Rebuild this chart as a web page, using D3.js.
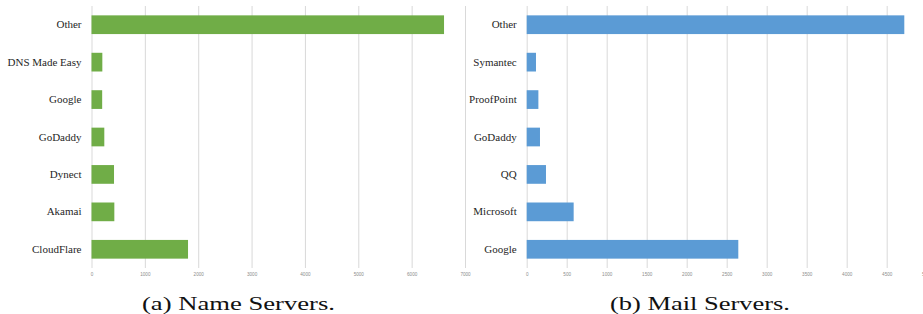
<!DOCTYPE html>
<html>
<head>
<meta charset="utf-8">
<script src="https://cdn.jsdelivr.net/npm/d3@7"></script>
<style>
  html, body { margin: 0; padding: 0; background: #fff; }
  svg { display: block; }
  .serif { font-family: 'Liberation Serif', 'Times New Roman', serif; }
</style>
</head>
<body>
<svg id="chart" width="923" height="314"></svg>
<script>
// Data
const nsCategories = ["Other", "DNS Made Easy", "Google", "GoDaddy", "Dynect", "Akamai", "CloudFlare"];
const nsValues = [6607, 203, 200, 240, 422, 428, 1809];
const nsTicks = [0, 1000, 2000, 3000, 4000, 5000, 6000, 7000];

const mailCategories = ["Other", "Symantec", "ProofPoint", "GoDaddy", "QQ", "Microsoft", "Google"];
const mailValues = [4720, 116, 146, 166, 241, 587, 2645];
const mailTicks = [0, 500, 1000, 1500, 2000, 2500, 3000, 3500, 4000, 4500, 5000];

const captions = ["(a) Name Servers.", "(b) Mail Servers."];

const svg = d3.select("#chart");

function panel(cfg) {
  const g = svg.append("g");
  const x = d3.scaleLinear().domain([0, cfg.max]).range([cfg.x0, cfg.x1]);
  const y = d3.scaleBand().domain(cfg.categories).range([6, 268]).paddingInner(0.5).paddingOuter(0.25);

  // gridlines
  const grid = g.append("g").attr("transform", "translate(0,268)")
    .call(d3.axisBottom(x).tickValues(cfg.ticks).tickSize(-262).tickFormat(""));
  grid.select(".domain").remove();
  grid.selectAll(".tick line").attr("stroke", "#d9d9d9").attr("stroke-width", 1);

  // tick labels
  const ax = g.append("g").attr("transform", "translate(0,268)")
    .call(d3.axisBottom(x).tickValues(cfg.ticks).tickSize(0).tickPadding(5).tickFormat(d3.format("d")));
  ax.select(".domain").remove();
  ax.attr("font-family", null);
  ax.selectAll("text").style("font-size", "4.6px").attr("fill", "#8c8c8c")
    .style("font-family", "'Liberation Sans', Arial, sans-serif");

  // bars
  g.selectAll("rect.bar").data(cfg.categories.map((c, i) => ({c, v: cfg.values[i]})))
    .enter().append("rect").attr("class", "bar")
    .attr("x", x(0)).attr("y", d => y(d.c))
    .attr("width", d => x(d.v) - x(0)).attr("height", y.bandwidth())
    .attr("fill", cfg.color);

  // category labels
  const yl = g.append("g").attr("transform", `translate(${x(0)},0)`)
    .call(d3.axisLeft(y).tickSize(0).tickPadding(10));
  yl.select(".domain").remove();
  yl.attr("font-family", null).attr("font-size", null);
  yl.selectAll("text").attr("class", "serif").style("font-size", "11px").attr("fill", "#262626");

  // caption
  g.append("text").attr("class", "serif").attr("x", cfg.capX).attr("y", 310).attr("text-anchor", "middle")
    .style("font-size", "19px").attr("fill", "#111")
    .attr("textLength", cfg.capW).attr("lengthAdjust", "spacingAndGlyphs")
    .text(cfg.caption);
}

panel({categories: nsCategories, values: nsValues, ticks: nsTicks, max: 7000,
  x0: 91.5, x1: 465, color: "#70ad47", caption: captions[0], capX: 238.5, capW: 193});
panel({categories: mailCategories, values: mailValues, ticks: mailTicks, max: 5000,
  x0: 526.7, x1: 926.7, color: "#5b9bd5", caption: captions[1], capX: 700, capW: 180});
</script>
</body>
</html>
